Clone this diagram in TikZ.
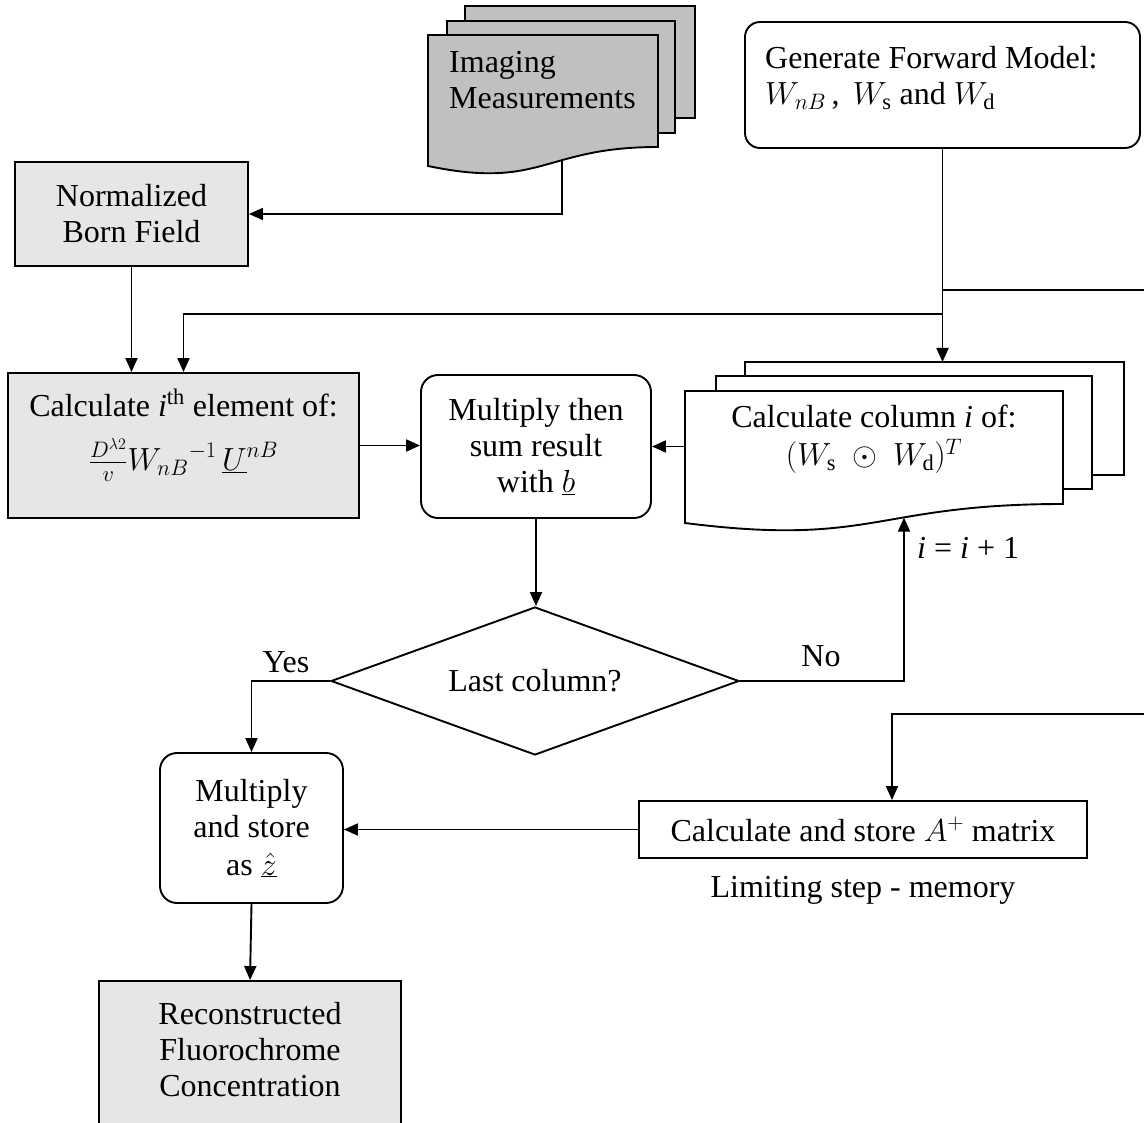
\RequirePackage{fix-cm}
\documentclass[tikz,border=0pt]{standalone}
\usepackage{fontspec}
\setmainfont{Liberation Serif}
\usetikzlibrary{arrows.meta,shapes.geometric}
\definecolor{docgray}{RGB}{192,192,192}
\definecolor{texgray}{RGB}{230,230,230}
\begin{document}
\begin{tikzpicture}[x=1pt,y=-1pt,
  every node/.style={font=\fontsize{32}{36}\selectfont},
  ln/.style={line width=1.9pt},
  arr/.style={ln,-{Triangle[length=14pt,width=12pt]}},
  sq/.style={draw,line width=1.9pt,fill=texgray,inner sep=0pt,align=center},
  rbox/.style={draw,line width=1.9pt,rounded corners=17pt,inner sep=0pt,align=center},
  plain/.style={inner sep=0pt,align=center},
]
\path[use as bounding box] (0,0) rectangle (1144,1123);
\clip (0,0) rectangle (1144,1123);

% Imaging measurements stack
\draw[ln,fill=docgray] (465,6) rectangle (695,118);
\draw[ln,fill=docgray] (447,21) rectangle (675,133);
\draw[ln,fill=docgray] (428,35) -- (658,35) -- (658,147) .. controls (543,147) and (543,190) .. (428,166) -- cycle;
\node[plain,align=left,anchor=north west] (img) at (449,51) {Imaging\\Measurements};
\coordinate (imgout) at (562,160.5);

% Generate forward model
\node[rbox,rounded corners=15pt,minimum width=395pt,minimum height=126pt] (gfm) at (942.5,85) {};
\node[plain,align=left,anchor=north west] (gfmt) at (765,46) {Generate Forward Model:\\$W_{nB}$\,,\, $W_{\mathrm{s}}$ and $W_{\mathrm{d}}$};

% Normalized Born field
\node[sq,minimum width=233pt,minimum height=104pt] (nbf) at (131.5,214) {Normalized\\Born Field};

% Calculate i-th element
\node[sq,minimum width=351pt,minimum height=145pt] (calc) at (183.5,445.5) {};
\node[plain,anchor=north] (calct) at (183.5,389) {Calculate \textit{i}\textsuperscript{th} element of:\\[18pt]$\frac{D^{\lambda2}}{v}{W_{nB}}^{-1}\,\underline{U}^{nB}$};

% Multiply then sum
\node[rbox,minimum width=230pt,minimum height=143pt] (mult) at (536,446.5) {Multiply then\\sum result\\with $\underline{b}$};

% Column stack
\draw[ln,fill=white] (745,362) rectangle (1124,475);
\draw[ln,fill=white] (716,376) rectangle (1092,489);
\draw[ln,fill=white] (685,391) -- (1063,391) -- (1063,504) .. controls (874,504) and (874,547) .. (685,523) -- cycle;
\node[plain,anchor=north] (col) at (874,405) {Calculate column \textit{i} of:\\[2pt]$(W_{\mathrm{s}}\;\odot\;W_{\mathrm{d}})^{T}$};
\coordinate (colTop) at (942.5,362);
\coordinate (colL) at (685,446.5);
\coordinate (colB) at (904,517.6);

% Decision
\node[draw,ln,diamond,aspect=2.76,minimum width=408pt,minimum height=148pt,inner sep=0pt] (dia) at (535,681) {Last column?};

% Multiply and store
\node[rbox,minimum width=183pt,minimum height=150pt] (ms) at (251.5,828) {Multiply\\and store\\[2pt]as $\underline{\hat{z}}$};

% A+ matrix
\node[draw,ln,minimum width=448pt,minimum height=57pt,inner sep=0pt] (ap) at (863,829.5) {Calculate and store $A^{+}$ matrix};
\node[plain] (lim) at (863,890) {Limiting step - memory};

% Reconstructed
\node[sq,minimum width=302pt,minimum height=170pt] (rec) at (250,1066) {};
\node[plain] (rect) at (250,1050) {Reconstructed\\Fluorochrome\\Concentration};

% labels
\node[plain] (yes) at (286,662) {Yes};
\node[plain] (no) at (821,656) {No};
\node[plain,anchor=west] (inc) at (917,548) {\textit{i} = \textit{i} + 1};

% junctions
\coordinate (j1) at (942.5,290);
\coordinate (j2) at (942.5,314);
\coordinate (eR1) at (1150,290);
\coordinate (eR2) at (1150,714);

% connectors
\draw[arr] (imgout) |- (nbf.east);
\draw[arr] (nbf.south) -- (nbf.south |- calc.north);
\draw[arr] (gfm.south) -- (colTop);
\draw[ln] (j1) -- (eR1);
\draw[arr] (j2) -| (calc.north);
\draw[arr] (calc.east) -- (calc.east -| mult.west);
\draw[arr] (colL) -- (mult.east);
\draw[arr] (mult.south) -- (mult.south |- dia.north);
\draw[arr] (dia.west) -| (ms.north);
\draw[arr] (dia.east) -| (colB);
\draw[arr] (eR2) -| ([xshift=29pt]ap.north);
\draw[arr] (ap.west) -- (ap.west -| ms.east);
\draw[arr] (ms.south) -- (rec.north);
\end{tikzpicture}
\end{document}
